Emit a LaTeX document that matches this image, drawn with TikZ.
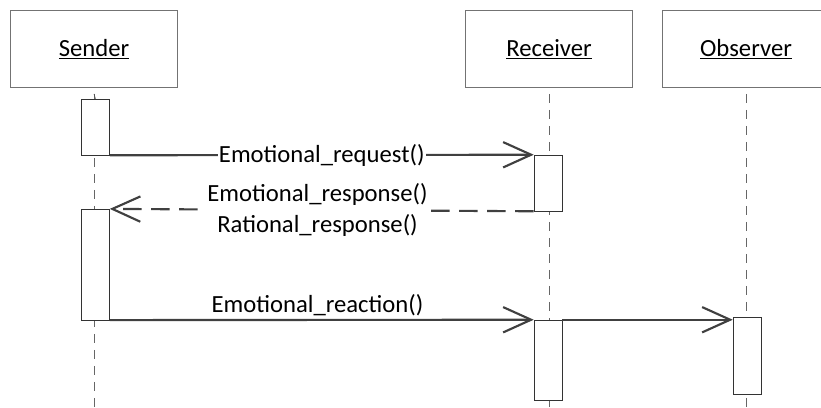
\documentclass[tikz,border=0pt]{standalone}
\usepackage{fontspec}
\setmainfont{Carlito}
\usetikzlibrary{arrows.meta}

\begin{document}
\begin{tikzpicture}[x=0.75pt,y=-0.75pt,font=\fontsize{18.5}{23}\selectfont]
	\useasboundingbox (0,0) rectangle (821,407);
	\tikzset{
		object/.style={rectangle,draw=black!55,thin,minimum width=125pt,minimum height=58pt},
		activation/.style={rectangle,draw=black!80,thin,fill=white,minimum width=21pt,inner sep=0pt},
		lifeline/.style={draw=black!60,dashed,dash pattern=on 7pt off 5pt,thin},
		msg/.style={draw=black!75,line width=1.6pt,-{Straight Barb[length=21pt,width=19pt,line width=1.6pt]}},
		reply/.style={msg,dash pattern=on 14pt off 7pt},
		lbl/.style={fill=white,inner sep=1pt,text=black}
	}
	% Objects
	\node (send) [object] at (94,49) {\underline{Sender}};
	\node (recv) [object] at (549,49) {\underline{Receiver}};
	\node (obs) [object] at (746,49) {\underline{Observer}};
	% Lifelines
	\coordinate (sendend) at (94,407);
	\coordinate (recvend) at (549,407);
	\coordinate (obsend) at (746,407);
	\draw[lifeline] (send.south) ++(0,6) -- (sendend);
	\draw[lifeline] (recv.south) ++(0,6) -- (recvend);
	\draw[lifeline] (obs.south) ++(0,6) -- (obsend);
	% Activations
	\node (sa1) [activation,minimum height=42pt] at (95.5,127) {};
	\node (sa2) [activation,minimum height=83pt] at (95.5,264.5) {};
	\node (ra1) [activation,minimum height=42pt] at (548,183) {};
	\node (ra2) [activation,minimum height=60pt] at (548,360) {};
	\node (oa1) [activation,minimum height=58pt] at (747,355.5) {};
	\draw[black!70,thin] (send.south) ++(0,6) -- (sa1.north);
	% Messages
	\draw[msg] (sa1.south east) -- (ra1.north west)
		node[lbl,pos=0.5] {Emotional\_request()};
	\draw[reply] (ra1.south west) -- (sa2.north east)
		node[lbl,pos=0.51,align=center] {Emotional\_response()\\Rational\_response()};
	\draw[msg] (sa2.south east) -- (ra2.north west)
		node[above,pos=0.49,text=black,inner sep=2pt] {Emotional\_reaction()};
	\draw[msg] (ra2.north east) -- (ra2.north east -| oa1.west);
\end{tikzpicture}
\end{document}
